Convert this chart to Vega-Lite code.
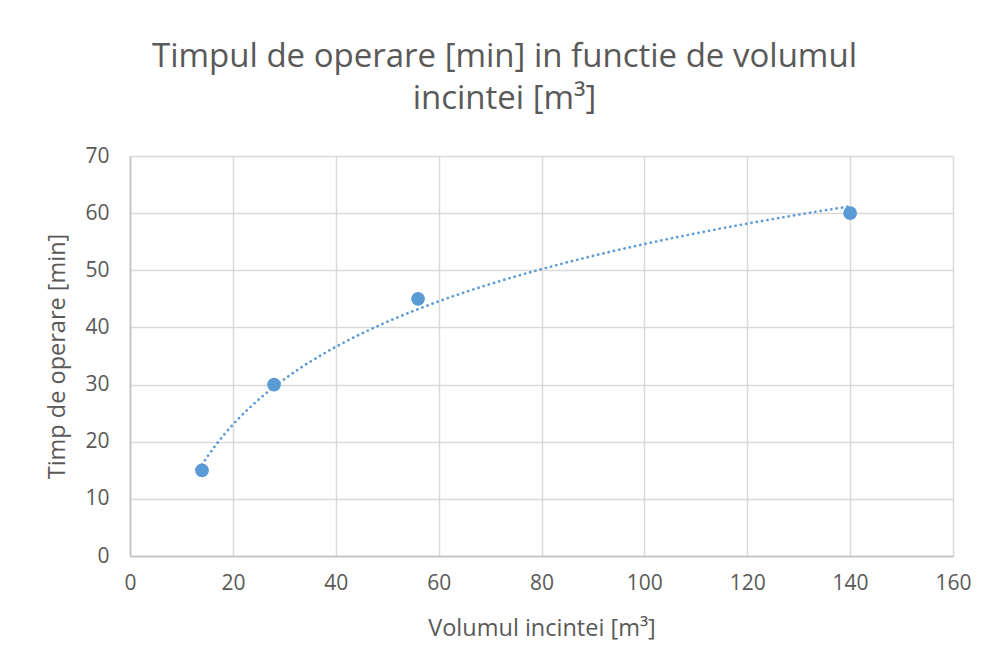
{
  "$schema": "https://vega.github.io/schema/vega-lite/v6.json",
  "width": 823,
  "height": 400,
  "autosize": {"type": "none"},
  "padding": {"left": 130, "top": 156, "right": 39, "bottom": 113},
  "background": "white",
  "title": {
    "text": ["Timpul de operare [min] in functie de volumul", "incintei [m³]"],
    "font": "Open Sans",
    "fontSize": 33,
    "fontWeight": "normal",
    "color": "#595959",
    "anchor": "middle",
    "dx": -37,
    "offset": 29,
    "lineHeight": 42
  },
  "data": {
    "values": [
      {"volum": 14, "timp": 15},
      {"volum": 28, "timp": 30},
      {"volum": 56, "timp": 45},
      {"volum": 140, "timp": 60}
    ]
  },
  "config": {
    "view": {"stroke": null},
    "axis": {
      "labelFont": "Open Sans",
      "titleFont": "Open Sans",
      "labelFontSize": 21,
      "titleFontSize": 23.5,
      "labelColor": "#595959",
      "titleColor": "#595959",
      "titleFontWeight": "normal",
      "gridColor": "#d9d9d9",
      "gridWidth": 1.5,
      "domainColor": "#bfbfbf",
      "domainWidth": 1.5,
      "ticks": false,
      "labelFlush": false
    }
  },
  "layer": [
    {
      "transform": [
        {"regression": "timp", "on": "volum", "method": "log", "extent": [14, 140]}
      ],
      "mark": {"type": "line", "color": "#5b9bd5", "strokeWidth": 2.7, "strokeCap": "round", "strokeDash": [0.1, 5.3]},
      "encoding": {
        "x": {"field": "volum", "type": "quantitative"},
        "y": {"field": "timp", "type": "quantitative"}
      }
    },
    {
      "mark": {"type": "circle", "color": "#5b9bd5", "opacity": 1, "size": 190},
      "encoding": {
        "x": {
          "field": "volum",
          "type": "quantitative",
          "scale": {"domain": [0, 160], "nice": false},
          "axis": {"values": [0, 20, 40, 60, 80, 100, 120, 140, 160], "title": "Volumul incintei [m³]", "labelPadding": 16, "titlePadding": 23}
        },
        "y": {
          "field": "timp",
          "type": "quantitative",
          "scale": {"domain": [0, 70], "nice": false},
          "axis": {"values": [0, 10, 20, 30, 40, 50, 60, 70], "title": "Timp de operare [min]", "labelPadding": 21, "titlePadding": 15}
        }
      }
    }
  ]
}
